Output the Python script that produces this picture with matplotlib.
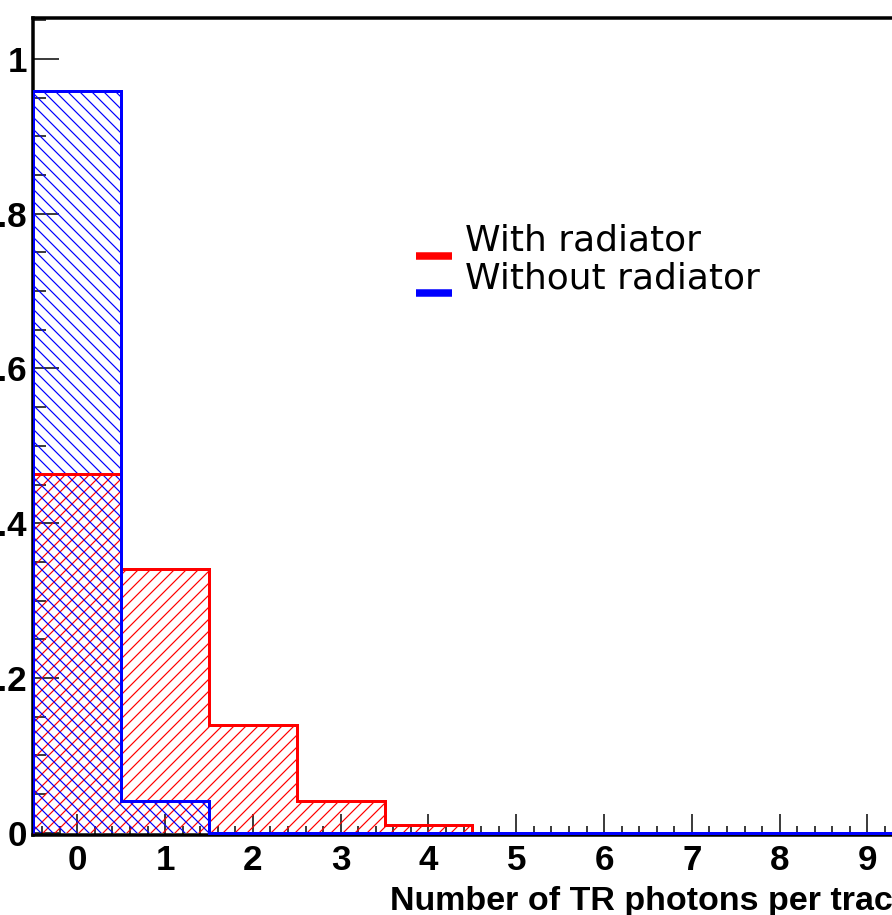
import matplotlib
matplotlib.use('Agg')
import matplotlib.pyplot as plt
from matplotlib.ticker import MultipleLocator, FuncFormatter
from matplotlib.lines import Line2D
import numpy as np

# bin edges: one bin per photon count, centred on integers
edges = np.arange(-0.5, 10.0, 1.0)

# fraction of tracks per number of TR photons
with_radiator = [0.463, 0.341, 0.139, 0.041, 0.010, 0.0, 0.0, 0.0, 0.0, 0.0]
without_radiator = [0.958, 0.041, 0.0, 0.0, 0.0, 0.0, 0.0, 0.0, 0.0, 0.0]

labels = ['With radiator', 'Without radiator']
colors = ['red', 'blue']
hatches = ['//', '\\\\']

plt.rcParams['font.family'] = 'Liberation Sans'
plt.rcParams['hatch.linewidth'] = 1.2

DPI = 72
fig = plt.figure(figsize=(892 / DPI, 915 / DPI), dpi=DPI)
ax = fig.add_axes([0.03744, 0.08743, 0.9843, 0.8929])

series = [with_radiator, without_radiator]

# hatched fills first, outlines on top
for vals, col, h in zip(series, colors, hatches):
    ax.stairs(vals, edges, fill=True, facecolor='none', edgecolor=col,
              hatch=h, linewidth=0, zorder=2)
for vals, col in zip(series, colors):
    ax.stairs(vals, edges, color=col, linewidth=3, baseline=0, zorder=3)

ax.set_xlim(-0.5, 9.5)
ax.set_ylim(-0.003, 1.053)

ax.xaxis.set_major_locator(MultipleLocator(1))
ax.xaxis.set_minor_locator(MultipleLocator(0.2))
ax.yaxis.set_major_locator(MultipleLocator(0.2))
ax.yaxis.set_minor_locator(MultipleLocator(0.05))
ax.yaxis.set_major_formatter(FuncFormatter(lambda v, p: '%g' % round(v, 2)))

ax.tick_params(axis='x', which='major', direction='in', length=21, width=1.5,
               pad=9, labelsize=35)
ax.tick_params(axis='x', which='minor', direction='in', length=9, width=1.5)
ax.tick_params(axis='y', which='major', direction='in', length=26, width=1.5,
               pad=6, labelsize=35)
ax.tick_params(axis='y', which='minor', direction='in', length=13, width=1.5)
for lab in ax.get_xticklabels() + ax.get_yticklabels():
    lab.set_fontweight('bold')

for sp in ax.spines.values():
    sp.set_linewidth(3.5)
    sp.set_zorder(2.5)

ax.text(1.0, -0.0918, 'Number of TR photons per track', transform=ax.transAxes,
        ha='right', va='baseline', fontsize=34, fontweight='bold')

# legend, ROOT style: short thick bars sitting a bit below the text baseline
line_y = [0.7093, 0.6637]
text_y = [0.7152, 0.6691]
for lab, col, ly, ty in zip(labels, colors, line_y, text_y):
    ax.add_line(Line2D([0.4358, 0.4771], [ly, ly], transform=ax.transAxes,
                       color=col, linewidth=7.5, solid_capstyle='butt'))
    ax.text(0.4916, ty, lab, transform=ax.transAxes, ha='left',
            va='baseline', fontsize=36, family='DejaVu Sans')

fig.savefig('out.png', dpi=DPI)
